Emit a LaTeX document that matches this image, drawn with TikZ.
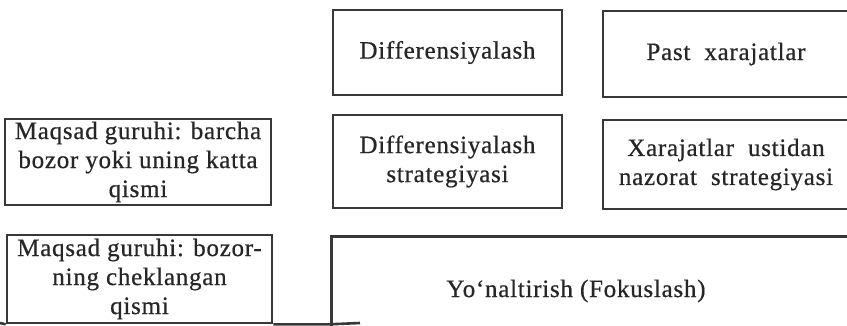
\documentclass[tikz,border=0pt]{standalone}
\usepackage{fontspec}
\setmainfont[LetterSpace=3,FakeBold=0.6]{Liberation Serif}
\usepackage{tikz}

\begin{document}
\begin{tikzpicture}
		[x=1pt,y=-1pt,every node/.style={align=center,text=black!85,font=\fontsize{25}{29}\selectfont},
		box/.style={draw=black!78,line width=2.6pt,inner sep=0pt}]
		\clip (0,0) rectangle (847,325);
		\fill[white] (0,0) rectangle (847,325);
		% top row
		\node[box,minimum width=229pt,minimum height=85pt] (b1) at (447.5,52.5) {Differensiyalash};
		\node[box,minimum width=246pt,minimum height=86pt] (b2) at (726,54) {Past\ \ xarajatlar};
		% middle row
		\node[box,minimum width=266pt,minimum height=86pt] (b3) at (138,162) {Maqsad guruhi: barcha\\bozor yoki uning katta\\qismi};
		\node[box,minimum width=229pt,minimum height=93pt] (b4) at (447.5,161.5) {Differensiyalash\\strategiyasi};
		\node[box,minimum width=246pt,minimum height=89pt] (b5) at (726,164.5) {Xarajatlar\ \ ustidan\\nazorat\ \ strategiyasi};
		% bottom row
		\node[box,minimum width=265pt,minimum height=88pt] (b6) at (139.5,279) {Maqsad guruhi: bozor-\\ning cheklangan\\qismi};
		\node[box,minimum width=540pt,minimum height=110pt,anchor=north west] (b7) at (330,235) {};
		\node (t7) at (576,291) {Yo‘naltirish\ (Fokuslash)};
		
		\draw[black!78,line width=2.6pt] (0,323) -- (b6.south west) (b6.south east) -- (b7.west |- b6.south) -- (360,323);
		\end{tikzpicture}
\end{document}
